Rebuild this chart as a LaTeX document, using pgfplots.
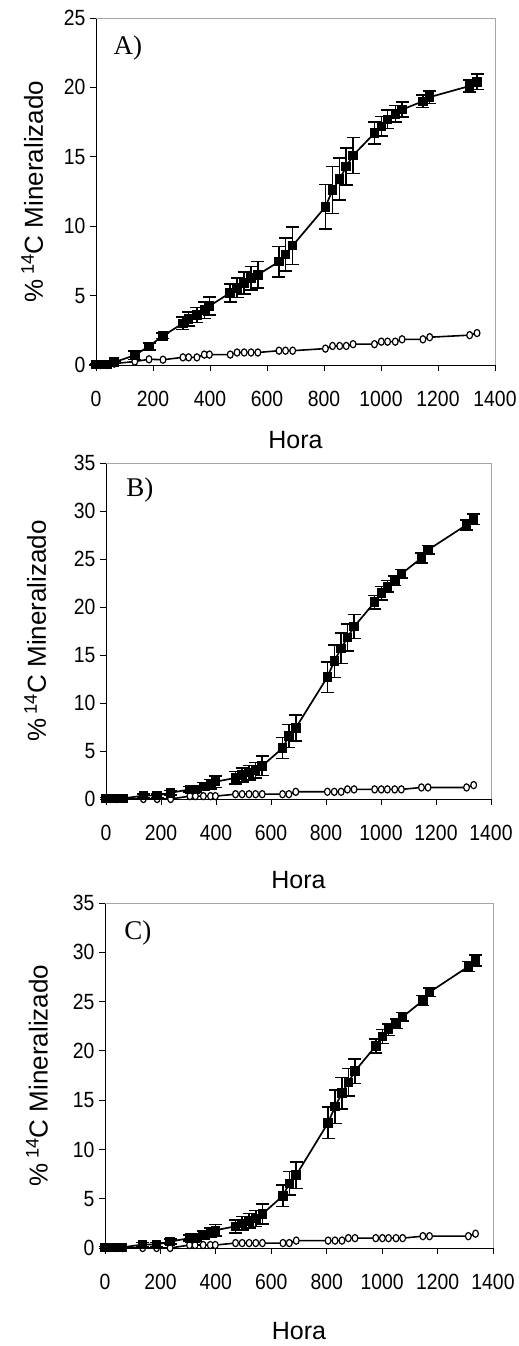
\documentclass[border=0pt]{standalone}
\usepackage{pgfplots}
\pgfplotsset{compat=1.18}
\usepackage{pgfplotstable}
\usepackage{fontspec}
\setmainfont{Liberation Sans}
\newfontfamily\tickfont{Liberation Sans}[FakeStretch=0.88]
\newfontfamily\seriffont{Liberation Serif}

\pgfplotstableread{
x y e c
0 0.05 0.05 0
15 0.03 0.05 0
39 0.05 0.05 0
64 0.2 0.1 0.1
136 0.7 0.3 0.25
186 1.35 0.25 0.41
235 2.1 0.2 0.38
305 3.0 0.45 0.55
325 3.3 0.5 0.55
354 3.6 0.55 0.55
380 3.95 0.6 0.75
398 4.25 0.65 0.75
471 5.2 0.65 0.75
495 5.55 0.7 0.9
520 5.9 0.8 0.9
544 6.25 0.85 0.9
568 6.5 0.95 0.9
642 7.45 1.1 1.03
665 7.95 1.2 1.03
690 8.6 1.35 1.03
805 11.4 1.6 1.18
830 12.6 1.7 1.37
855 13.4 1.5 1.37
878 14.3 1.35 1.37
902 15.1 1.3 1.5
977 16.7 0.8 1.5
1001 17.2 0.7 1.68
1023 17.7 0.65 1.68
1050 18.1 0.6 1.68
1074 18.4 0.55 1.85
1147 19.0 0.45 1.85
1171 19.3 0.45 2.0
1311 20.1 0.45 2.15
1337 20.4 0.55 2.3
}\dataA

\pgfplotstableread{
x y e c
0 0.05 0.1 0
15 0.05 0.1 0
39 0.05 0.1 0
64 0.07 0.1 0
136 0.35 0.2 0
186 0.35 0.2 0
235 0.65 0.25 0
305 1.0 0.3 0.3
325 1.0 0.3 0.3
354 1.3 0.4 0.3
380 1.55 0.5 0.3
398 1.8 0.6 0.3
471 2.2 0.65 0.5
495 2.5 0.7 0.5
520 2.75 0.75 0.5
544 3.0 0.8 0.5
568 3.45 1.0 0.5
642 5.3 1.1 0.5
665 6.55 1.2 0.5
690 7.4 1.35 0.75
805 12.7 1.6 0.75
830 14.35 1.7 0.75
855 15.7 1.6 0.75
878 16.8 1.4 1.0
902 17.95 1.25 1.0
977 20.5 0.7 1.0
1001 21.45 0.7 1.0
1023 22.15 0.6 1.0
1050 22.75 0.5 1.0
1074 23.45 0.45 1.0
1147 25.1 0.5 1.2
1171 25.95 0.45 1.2
1311 28.55 0.5 1.2
1337 29.15 0.55 1.45
}\dataB

\pgfplotsset{
  panel/.style={
    scale only axis, anchor=south west,
    xmin=0, xmax=1400, xtick={0,200,...,1400},
    axis x line*=bottom, axis y line*=left,
    axis line style={-, line width=0.8pt},
    tick align=outside, major tick length=6pt,
    tick style={black, line width=0.8pt},
    /pgf/number format/assume math mode=true,
    /pgf/number format/1000 sep={},
    tick label style={font=\tickfont\fontsize{22}{24}\selectfont},
    xticklabel style={yshift=-17pt},
    yticklabel style={xshift=-1pt},
    xlabel style={font=\fontsize{25}{30}\selectfont},
    ylabel style={font=\fontsize{26}{30}\selectfont},
    xlabel={Hora},
    ylabel={\%\,\textsuperscript{14}C Mineralizado},
    clip=false,
  },
  sq/.style={black, line width=1.7pt, mark=square*, mark size=3.9pt,
    mark options={solid},
    error bars/.cd, y dir=both, y explicit,
    error bar style={line width=1.5pt},
    error mark options={line width=1.6pt, mark size=6.5pt, rotate=90}},
  ci/.style={black, line width=1.6pt, mark=*, mark size=3.6pt,
    mark options={fill=white, xscale=0.8, line width=1.2pt}},
}

\begin{document}
\begin{tikzpicture}
\useasboundingbox (0,0) rectangle (519pt,1346pt);

% Panel A
\begin{axis}[panel, at={(96pt,981pt)}, width=399pt, height=347pt,
  ymin=0, ymax=25, ytick={0,5,...,25},
  xlabel style={at={(axis description cs:0.5,-0.216)}, anchor=center},
  ylabel style={at={(axis description cs:-0.16,0.5)}, anchor=center}]
\addplot[ci] table[x=x,y=c] {\dataA};
\addplot[sq] table[x=x,y=y,y error=e] {\dataA};
\draw[gray!70, line width=0.8pt] (rel axis cs:0,1) -- (rel axis cs:1,1) -- (rel axis cs:1,0);
\node[font=\seriffont\fontsize{27}{30}\selectfont] at (rel axis cs:0.08,0.914) {A)};
\end{axis}

% Panel B
\begin{axis}[panel, at={(106pt,547pt)}, width=385pt, height=336pt,
  ymin=0, ymax=35, ytick={0,5,...,35},
  xlabel style={at={(axis description cs:0.5,-0.241)}, anchor=center},
  ylabel style={at={(axis description cs:-0.184,0.5)}, anchor=center}]
\addplot[ci] table[x=x,y=c] {\dataB};
\addplot[sq] table[x=x,y=y,y error=e] {\dataB};
\draw[gray!70, line width=0.8pt] (rel axis cs:0,1) -- (rel axis cs:1,1) -- (rel axis cs:1,0);
\node[font=\seriffont\fontsize{27}{30}\selectfont] at (rel axis cs:0.088,0.92) {B)};
\end{axis}

% Panel C
\begin{axis}[panel, at={(105pt,98pt)}, width=388pt, height=345pt,
  ymin=0, ymax=35, ytick={0,5,...,35},
  xlabel style={at={(axis description cs:0.5,-0.241)}, anchor=center},
  ylabel style={at={(axis description cs:-0.175,0.5)}, anchor=center}]
\addplot[ci] table[x=x,y=c] {\dataB};
\addplot[sq] table[x=x,y=y,y error=e] {\dataB};
\draw[gray!70, line width=0.8pt] (rel axis cs:0,1) -- (rel axis cs:1,1) -- (rel axis cs:1,0);
\node[font=\seriffont\fontsize{27}{30}\selectfont] at (rel axis cs:0.085,0.913) {C)};
\end{axis}
\end{tikzpicture}
\end{document}
